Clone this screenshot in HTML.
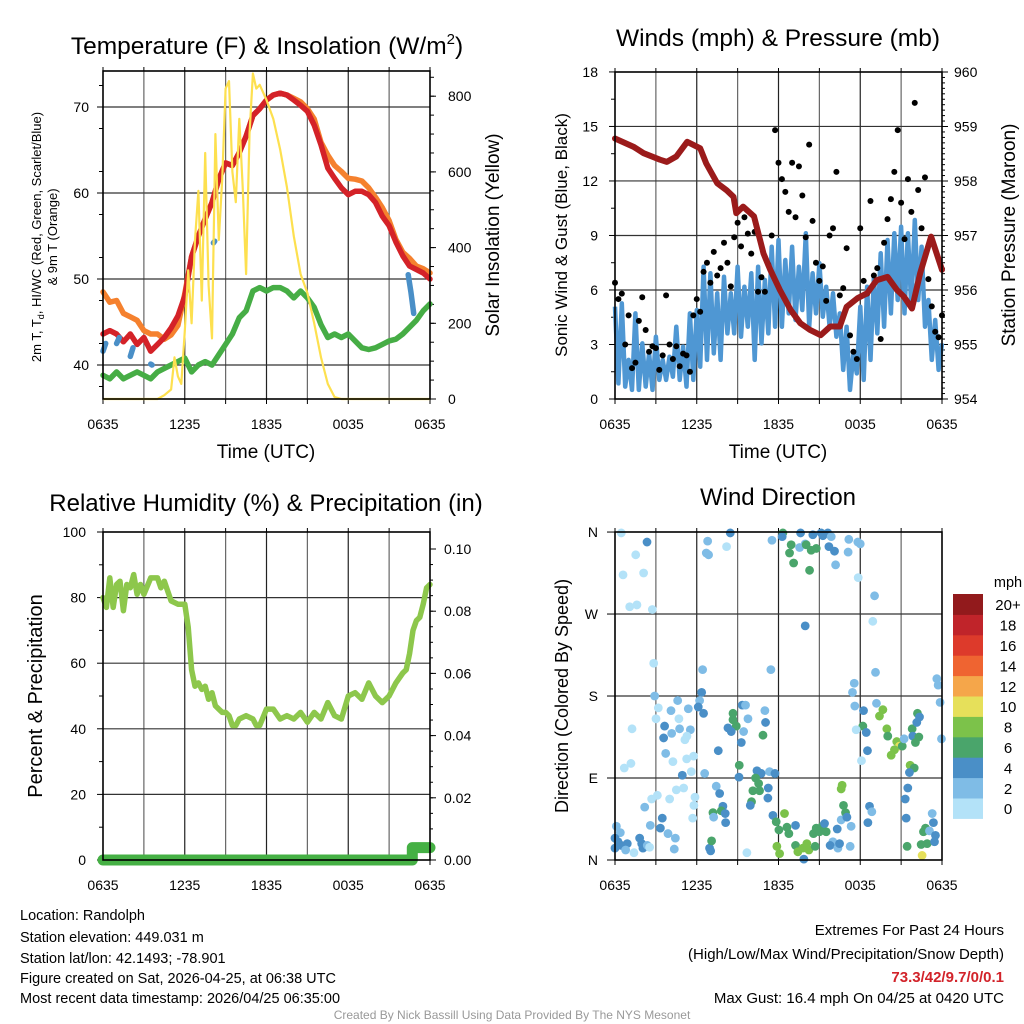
<!DOCTYPE html>
<html><head><meta charset="utf-8"><style>
body{margin:0;background:#fff;}
svg{display:block;font-family:"Liberation Sans",sans-serif;}
</style></head><body>
<svg id="c" width="1024" height="1024" viewBox="0 0 1024 1024">
<rect width="1024" height="1024" fill="#fff"/>
<g id="g"></g>
<text x="267" y="54" font-size="24.5" text-anchor="middle">Temperature (F) &amp; Insolation (W/m<tspan font-size="15" dy="-10">2</tspan><tspan dy="10">)</tspan></text>
<text x="778" y="46" font-size="24.5" text-anchor="middle">Winds (mph) &amp; Pressure (mb)</text>
<text x="266" y="511" font-size="24" text-anchor="middle">Relative Humidity (%) &amp; Precipitation (in)</text>
<text x="778" y="505" font-size="24" text-anchor="middle">Wind Direction</text>
<text x="266" y="458" font-size="19" text-anchor="middle">Time (UTC)</text>
<text x="778" y="458" font-size="19" text-anchor="middle">Time (UTC)</text>
<text transform="translate(41,237) rotate(-90)" font-size="13" text-anchor="middle">2m T, T<tspan font-size="9" dy="3">d</tspan><tspan dy="-3">, HI/WC (Red, Green, Scarlet/Blue)</tspan></text>
<text transform="translate(57,237) rotate(-90)" font-size="13" text-anchor="middle">&amp; 9m T (Orange)</text>
<text transform="translate(499,235) rotate(-90)" font-size="19" text-anchor="middle">Solar Insolation (Yellow)</text>
<text transform="translate(567,235) rotate(-90)" font-size="17" text-anchor="middle">Sonic Wind &amp; Gust (Blue, Black)</text>
<text transform="translate(1015,235) rotate(-90)" font-size="19" text-anchor="middle">Station Pressure (Maroon)</text>
<text transform="translate(42,696) rotate(-90)" font-size="20" text-anchor="middle">Percent &amp; Precipitation</text>
<text transform="translate(568,696) rotate(-90)" font-size="18" text-anchor="middle">Direction (Colored By Speed)</text>
<g font-size="14.5">
<text x="20" y="920">Location: Randolph</text>
<text x="20" y="942">Station elevation: 449.031 m</text>
<text x="20" y="963">Station lat/lon: 42.1493; -78.901</text>
<text x="20" y="983">Figure created on Sat, 2026-04-25, at 06:38 UTC</text>
<text x="20" y="1003">Most recent data timestamp: 2026/04/25 06:35:00</text>
</g>
<g font-size="15" text-anchor="end">
<text x="1004" y="935">Extremes For Past 24 Hours</text>
<text x="1004" y="959">(High/Low/Max Wind/Precipitation/Snow Depth)</text>
<text x="1004" y="982" fill="#d2232a" font-weight="bold">73.3/42/9.7/0/0.1</text>
<text x="1004" y="1003">Max Gust: 16.4 mph On 04/25 at 0420 UTC</text>
</g>
<text x="512" y="1019" font-size="12" fill="#999" text-anchor="middle">Created By Nick Bassill Using Data Provided By The NYS Mesonet</text>
</svg>
<script>
// ---- Temperature panel data (every 30 min, hours since 0635) ----
const tHalf = [0,0.5,1,1.5,2,2.5,3,3.5,4,4.5,5,5.5,6,6.5,7,7.5,8,8.5,9,9.5,10,10.5,11,11.5,12,12.5,13,13.5,14,14.5,15,15.5,16,16.5,17,17.5,18,18.5,19,19.5,20,20.5,21,21.5,22,22.5,23,23.5,24];
const temp9m = [48.5,47.3,47.5,46.0,45.6,45.2,44.0,43.6,43.6,43.0,43.5,44.6,48.3,52.6,55,57,58.9,61.6,63.5,63.2,64.7,66.6,69,69.8,70.8,71.4,71.6,71.4,71,70.6,69.8,68.6,65.9,64.4,63.2,62.5,61.7,61.6,61.4,60.6,59.5,58.3,56.8,54.6,53.1,52.4,51.5,51.2,50.7];
const temp2m = [43.6,44.0,43.6,42.7,43.6,42.4,43.2,41.6,42.4,43.2,44.3,45.7,48.0,52.6,55,57,58.9,61.6,63.5,63.2,64.7,66.6,69,69.8,70.8,71.4,71.6,71.4,70.8,70.2,69.5,67.9,65.6,62.9,61.7,60.6,59.8,60.2,60.2,59.8,58.9,57.3,56.2,54.3,52.7,51.5,51.1,50.7,50.0];
const dewpt = [38.8,38.4,39.2,38.4,38.8,39.2,38.8,38.4,39.2,39.6,40.0,40.4,40.8,39.2,40.0,40.4,40.0,41.2,42.4,43.6,45.5,46.3,48.6,49.0,48.6,49.0,49.0,48.6,47.8,48.6,47.8,46.7,44.7,43.2,43.6,43.2,43.6,42.8,42.0,41.8,42.0,42.4,42.8,43.0,43.6,44.4,45.2,46.3,47.1];
const wcT = [0,0.2,null,1.0,1.2,null,2.0,2.2,null,3.5,3.6,null,8.1,8.2,null,22.4,22.6,22.8];
const wcV = [41.6,42.5,null,42.5,43.2,null,41.0,42.0,null,40.1,40.0,null,54.2,54.4,null,50.5,48.5,46.0];
const solarT = [0,4,4.5,5,5.25,5.5,5.75,6,6.25,6.5,6.75,7,7.25,7.5,7.75,8,8.25,8.5,8.75,9,9.25,9.5,9.75,10,10.25,10.5,10.75,11,11.25,11.5,12,12.5,13,13.5,14,14.5,15,15.5,16,16.5,17,17.5,24];
const solarV = [0,0,10,25,110,60,40,180,340,200,420,550,260,650,300,160,700,420,580,820,840,600,520,740,560,330,700,860,820,830,790,740,660,560,430,330,280,200,110,40,5,0,0];
const tempTicks = [40,50,60,70];
const solarTicks = [0,200,400,600,800];
const timeLabels = ["0635","1235","1835","0035","0635"];
// ---- Wind panel data (every 15 min) ----
const windSpd = [5.08,0.86,5.26,0.68, 2.15,0.50,4.71,0.50, 3.06,0.68,2.51,0.50, 3.43,1.05,2.15,1.05, 2.33,1.23,3.98,1.05, 2.88,0.68,4.71,1.05, 4.90,1.78,7.28,2.15, 6.92,2.51,5.82,2.15, 6.73,3.61,5.82,3.61, 7.28,3.43,6.18,3.98, 6.92,2.15,7.28,3.06, 6.55,3.61,8.38,3.98, 8.75,3.98,7.65,4.71, 8.38,4.35,7.28,4.90, 9.12,3.98,6.92,4.71, 7.47,4.53,6.18,3.98, 5.82,3.43,4.71,1.60, 3.98,0.50,2.51,1.41, 5.08,1.05,6.18,2.15, 6.73,3.61,8.02,3.98, 8.75,4.71,9.12,5.45, 9.48,4.71,9.12,5.08, 9.85,5.45,8.38,3.98, 5.45,2.15,4.35,1.60, 3.06];
const gust = [6.4,5.5,5.8,3.0, 4.6,1.7,2.0,4.3, 5.6,3.8,2.6,2.9, 2.8,1.6,2.4,5.7, 3.0,2.2,2.9,1.8, 2.5,2.4,1.5,4.6, 5.5,4.8,7.0,7.5, 6.4,8.1,6.8,7.2, 8.6,7.5,6.2,8.9, 9.7,8.4,10.0,9.1, 8.0,9.2,5.9,6.7, 5.9,7.4,9.0,14.8, 13.0,12.1,11.4,10.3, 13.0,10.0,12.8,11.2, 8.9,14.0,9.8,7.5, 6.5,7.3,5.4,9.0, 9.4,12.5,5.7,6.1, 8.3,3.5,2.6,2.2, 9.4,6.5,5.8,10.9, 6.8,7.2,3.3,8.6, 9.9,11.0,12.5,14.8, 10.8,8.8,12.1,10.3, 16.3,11.5,9.4,12.2, 6.6,5.1,3.7,3.4, 4.6];
const presT = [0,1.35,2.1,3.3,3.8,4.5,5.3,6.25,6.7,7.5,8.2,8.7,8.9,9.4,10.2,10.9,11.4,12.1,12.9,13.6,14.3,15.1,15.8,16.5,17.0,17.8,18.5,19.2,20.0,20.7,21.2,21.8,22.4,23.2,24];
const presV = [958.78,958.63,958.51,958.39,958.35,958.45,958.72,958.60,958.32,957.96,957.83,957.71,957.41,957.53,957.35,956.67,956.37,956.00,955.63,955.39,955.27,955.17,955.33,955.33,955.69,955.85,955.94,956.18,956.24,956.00,955.88,955.66,956.31,956.98,956.37];
const windTicks = [0,3,6,9,12,15,18];
const presTicks = [954,955,956,957,958,959,960];
// ---- RH panel data ----
const rhT = [0,0.25,0.5,0.75,1,1.25,1.5,1.75,2,2.25,2.5,2.75,3,3.5,4,4.25,4.5,5,5.5,6,6.25,6.5,6.75,7,7.25,7.5,7.75,8,8.25,8.5,8.75,9,9.25,9.5,9.75,10,10.5,11,11.25,11.5,12,12.5,13,13.5,14,14.5,15,15.5,16,16.5,17,17.5,18,18.5,19,19.5,20,20.5,21,21.5,22,22.25,22.5,22.75,23,23.25,23.5,23.75,24];
const rhV = [80,77,86,77,84,85,76,84,83,87,81,84,81,86,86,83,85,79,78,78,71,58,53,54,52,53,49,51,47,46,45,45,44,41,41,43,44,43,41,41,46,46,43,44,43,45,42,45,43,48,44,43,50,51,49,54,50,48,50,54,57,58,63,70,73,74,78,83,84];
const precipT = [0,22.7,22.7,24];
const precipV = [0,0,0.004,0.004];
const rhTicks = [0,20,40,60,80,100];
const precipTicks = ["0.00","0.02","0.04","0.06","0.08","0.10"];
// ---- Wind direction data: [hour, degrees, speed mph] ----
const dirHour = [0.46,2.35,1.52,0.59,2.10,1.08,1.61,2.74,6.80,6.70,6.87,8.46,8.19,11.52,12.32,12.27,13.62,12.93,12.81,13.11,13.55,13.96,14.03,14.40,14.77,14.52,14.28,15.13,15.26,15.62,15.87,15.70,16.11,16.19,17.16,17.11,17.82,18.00,17.85,19.05,18.92,13.96,
2.84,2.91,3.18,3.01,1.25,3.64,3.57,4.11,4.60,4.69,4.74,4.16,5.38,5.53,5.13,5.28,3.72,4.25,5.26,5.77,0.68,1.17,4.94,5.60,6.43,6.36,6.21,6.11,6.50,7.58,6.58,8.66,8.66,8.90,8.29,8.53,9.34,9.58,9.76,9.44,9.27,9.12,9.10,11.00,11.05,10.86,11.44,10.42,10.73,11.34,11.74,10.32,10.54,10.12,10.61,11.25,11.22,10.02,9.93,17.56,17.43,17.60,19.12,19.19,18.24,18.19,18.44,17.70,18.53,18.09,19.66,19.41,19.95,20.02,20.68,20.88,20.51,20.27,21.08,21.22,21.81,21.86,22.05,22.30,22.20,22.35,22.15,21.66,21.96,21.61,23.62,23.72,23.86,23.96,
0.10,0.39,0.0,0.22,0.0,0.46,0.90,0.78,1.39,1.81,1.96,2.05,2.37,2.54,2.18,2.59,3.11,2.69,3.47,3.33,3.89,4.43,4.35,4.01,4.50,5.04,5.87,5.79,5.70,6.94,7.02,7.09,7.43,7.68,7.92,7.19,7.80,8.09,7.24,8.12,9.68,11.59,11.83,12.03,12.44,12.62,12.76,11.88,12.08,13.25,13.25,13.42,13.79,14.08,14.23,14.69,14.57,14.77,15.01,15.21,15.38,15.50,13.86,15.99,15.79,16.36,16.48,16.31,16.60,17.33,17.26,16.67,16.60,16.77,16.92,17.02,18.68,18.85,18.56,21.30,21.49,21.37,21.44,22.54,22.47,22.91,22.79,22.64,23.08,23.37,23.28,23.52,23.45];
const dirDeg = [359,349,335,313,315,278,280,275,350,337,335,359,344,351,359,355,359,346,337,326,343,347,346,340,342,357,318,359,356,359,355,344,339,324,352,338,349,347,310,290,262,257,
216,180,167,155,144,147,134,164,175,155,144,139,166,143,132,136,117,108,111,114,101,106,93,97,209,184,175,168,161,120,95,161,154,147,145,141,170,170,155,141,129,104,91,164,151,137,209,98,95,97,95,90,84,76,76,79,68,64,60,194,184,169,206,172,164,147,140,143,120,109,165,158,144,136,130,125,121,115,125,133,144,136,129,135,161,157,151,104,101,96,199,192,173,133,
37,30,24,20,13,16,18,11,8,24,18,13,16,14,58,38,71,67,46,35,29,24,12,67,77,79,69,60,46,13,10,21,81,73,59,52,54,51,47,41,8,49,42,33,51,36,29,15,7,38,16,9,13,18,11,15,29,35,31,37,40,31,1,20,16,13,18,34,44,37,15,82,78,60,52,47,59,53,41,67,79,46,15,5,17,18,35,31,32,41,51,27,20];
const dirSpd = [1,5,1,1,1,1,1,1,3,3,3,5,1,3,7,5,5,7,7,7,3,3,7,7,7,5,7,5,5,5,3,5,5,3,3,3,3,3,1,3,1,5,
1,3,1,1,1,5,5,3,3,1,3,3,3,3,1,1,3,1,1,1,1,1,5,1,3,5,3,5,5,5,3,7,7,7,5,5,5,3,3,3,5,7,5,3,5,7,3,5,5,3,5,7,7,7,7,5,5,7,5,3,3,3,3,3,5,7,5,1,5,1,9,9,9,7,9,11,9,9,7,3,7,5,7,7,7,5,5,9,7,5,3,3,3,3,
3,3,5,5,5,5,5,3,1,5,5,5,3,1,3,3,1,1,5,5,3,3,3,1,1,1,1,1,1,5,5,7,3,5,5,7,7,5,3,5,1,5,7,7,9,7,7,9,9,5,7,9,9,9,9,7,7,7,7,7,5,7,5,3,5,3,5,5,3,3,3,9,9,7,7,5,5,3,5,5,5,5,7,11,7,7,7,7,3,5,3,5,5];
const speedBins = ["0","2","4","6","8","10","12","14","16","18","20+"];
const dirLabels = ["N","E","S","W","N"];

const NS='http://www.w3.org/2000/svg';
const G=document.getElementById('g');
function el(tag,attrs,parent){const e=document.createElementNS(NS,tag);for(const k in attrs)e.setAttribute(k,attrs[k]);(parent||G).appendChild(e);return e;}
function txt(x,y,s,size,anchor,parent){const e=el('text',{x:x,y:y,'font-size':size,'text-anchor':anchor},parent);e.textContent=s;return e;}
function pathFrom(ts,vs,fx,fy){let d='',pen=false;for(let i=0;i<ts.length;i++){if(ts[i]===null||vs[i]===null){pen=false;continue;}d+=(pen?'L':'M')+fx(ts[i]).toFixed(1)+','+fy(vs[i]).toFixed(1);pen=true;}return d;}

function panel(x0,x1,y0,y1,hLines,name){
  const g=el('g',{});
  
  
  for(let k=1;k<8;k++){const x=x0+k*(x1-x0)/8;
    const l=el('line',{x1:x,y1:y0,x2:x,y2:y1,stroke:k%2?'#666':'#222','stroke-width':1.2},g);
    
    }
  hLines.forEach(y=>{const l=el('line',{x1:x0,y1:y,x2:x1,y2:y,stroke:'#333','stroke-width':1.2},g);
    
    });
  for(let k=0;k<=8;k++){const x=x0+k*(x1-x0)/8;el('line',{x1:x,y1:y1,x2:x,y2:y1+5,stroke:'#000','stroke-width':1},g);el('line',{x1:x,y1:y0,x2:x,y2:y0-4,stroke:'#000','stroke-width':1},g);}
  return g;
}
function frame(x0,x1,y0,y1,name){const r=el('rect',{x:x0,y:y0,width:x1-x0,height:y1-y0,fill:'none',stroke:'#000','stroke-width':1.6});
  
  }
function xLabels(x0,x1,y){timeLabels.forEach((s,i)=>{const t=txt(x0+i*(x1-x0)/4,y,s,14,'middle');
  
  });}

// ===== Panel 1 =====
{const x0=103,x1=430,y0=71,y1=399;
 const X=t=>x0+t*(x1-x0)/24, YT=v=>365+(40-v)*8.6, YS=v=>399-v*0.3785;
 panel(x0,x1,y0,y1,tempTicks.map(YT),'temp-grid');
 tempTicks.forEach(v=>{el('line',{x1:x0-6,y1:YT(v),x2:x0,y2:YT(v),stroke:'#000'});const t=txt(x0-14,YT(v)+5,String(v),14,'end');
   
   });
 for(let v=37.5;v<75;v+=5)el('line',{x1:x0-4,y1:YT(v),x2:x0,y2:YT(v),stroke:'#000'});
 solarTicks.forEach(v=>{el('line',{x1:x1,y1:YS(v),x2:x1+6,y2:YS(v),stroke:'#000'});const t=txt(x1+18,YS(v)+5,String(v),14,'start');
   
   });
 for(let v=50;v<870;v+=50)el('line',{x1:x1,y1:YS(v),x2:x1+4,y2:YS(v),stroke:'#000'});
 let p;
 p=el('path',{d:pathFrom(tHalf,dewpt,X,YT),fill:'none',stroke:'#46ad45','stroke-width':5.5,'stroke-linejoin':'round','stroke-linecap':'round'});
 
 p=el('path',{d:pathFrom(tHalf,temp9m,X,YT),fill:'none',stroke:'#f5812e','stroke-width':5.5,'stroke-linejoin':'round','stroke-linecap':'round'});
 
 p=el('path',{d:pathFrom(tHalf,temp2m,X,YT),fill:'none',stroke:'#d42228','stroke-width':5.5,'stroke-linejoin':'round','stroke-linecap':'round'});
 
 p=el('path',{d:pathFrom(wcT,wcV,X,YT),fill:'none',stroke:'#4a8fc7','stroke-width':5.5,'stroke-linecap':'round'});
 
 p=el('path',{d:pathFrom(solarT,solarV,X,YS),fill:'none',stroke:'#fde04f','stroke-width':2.2,'stroke-linejoin':'round'});
 
 frame(x0,x1,y0,y1,'temp-plot-frame');
 xLabels(x0,x1,429);
}
// ===== Panel 2 =====
{const x0=615,x1=942,y0=72,y1=399;
 const X=t=>x0+t*(x1-x0)/24, YW=v=>399-v*18.17, YP=p=>399-(p-954)*54.5;
 panel(x0,x1,y0,y1,windTicks.slice(1,-1).map(YW),'wind-grid');
 windTicks.forEach(v=>{el('line',{x1:x0-6,y1:YW(v),x2:x0,y2:YW(v),stroke:'#000'});const t=txt(x0-17,YW(v)+5,String(v),14,'end');
   
   });
 for(let v=1.5;v<18;v+=3)el('line',{x1:x0-4,y1:YW(v),x2:x0,y2:YW(v),stroke:'#000'});
 presTicks.forEach(v=>{el('line',{x1:x1,y1:YP(v),x2:x1+6,y2:YP(v),stroke:'#000'});const t=txt(x1+12,YP(v)+5,String(v),14,'start');
   
   });
 for(let v=954.1;v<960;v+=0.1)el('line',{x1:x1,y1:YP(v),x2:x1+3,y2:YP(v),stroke:'#000'});
 const tq=windSpd.map((_,i)=>i*0.25);
 let p=el('path',{d:pathFrom(tq,windSpd,X,YW),fill:'none',stroke:'#4f97d3','stroke-width':4.5,'stroke-linejoin':'round'});
 
 gust.forEach((v,i)=>{const c=el('circle',{cx:X(i*0.25),cy:YW(v),r:3,fill:'#000'});
   
   });
 p=el('path',{d:pathFrom(presT,presV,X,YP),fill:'none',stroke:'#9b1b1b','stroke-width':6,'stroke-linejoin':'round','stroke-linecap':'round'});
 
 frame(x0,x1,y0,y1,'wind-plot-frame');
 xLabels(x0,x1,429);
}
// ===== Panel 3 =====
{const x0=103,x1=430,y0=532,y1=860;
 const X=t=>x0+t*(x1-x0)/24, YR=v=>860-v*3.28, YPr=v=>860-v*3110;
 panel(x0,x1,y0,y1,rhTicks.slice(1,-1).map(YR),'rh-grid');
 rhTicks.forEach(v=>{el('line',{x1:x0-6,y1:YR(v),x2:x0,y2:YR(v),stroke:'#000'});const t=txt(x0-17,YR(v)+5,String(v),14,'end');
   
   });
 for(let v=10;v<100;v+=20)el('line',{x1:x0-4,y1:YR(v),x2:x0,y2:YR(v),stroke:'#000'});
 precipTicks.forEach(s=>{const v=parseFloat(s);el('line',{x1:x1,y1:YPr(v),x2:x1+6,y2:YPr(v),stroke:'#000'});const t=txt(x1+14,YPr(v)+5,s,14,'start');
   
   });
 for(let v=0.005;v<0.105;v+=0.005)el('line',{x1:x1,y1:YPr(v),x2:x1+3,y2:YPr(v),stroke:'#000'});
 let p=el('path',{d:pathFrom(rhT,rhV,X,YR),fill:'none',stroke:'#8dc74c','stroke-width':5.5,'stroke-linejoin':'round','stroke-linecap':'round'});
 
 p=el('path',{d:pathFrom(precipT,precipV,X,YPr),fill:'none',stroke:'#45b044','stroke-width':11,'stroke-linejoin':'round','stroke-linecap':'round'});
 
 frame(x0,x1,y0,y1,'rh-plot-frame');
 xLabels(x0,x1,890);
}
// ===== Panel 4 =====
{const x0=615,x1=942,y0=532,y1=860;
 const X=t=>x0+t*(x1-x0)/24, YD=d=>860-d*0.911;
 const colors=['#b3e2f8','#7fbce6','#4a8fc7','#4aa56b','#7cc24a','#e6e05a','#f5a64a','#ef6431','#dd3a2b','#c0242a','#921a1c'];
 panel(x0,x1,y0,y1,[90,180,270].map(YD),'direction-grid');
 dirLabels.forEach((s,i)=>{el('line',{x1:x0-8,y1:YD(i*90),x2:x0,y2:YD(i*90),stroke:'#000'});const t=txt(x0-17,YD(i*90)+5,s,14,'end');
   
   });
 dirHour.forEach((h,i)=>{const bin=Math.min(10,Math.floor(dirSpd[i]/2));
   const c=el('circle',{cx:X(h),cy:YD(dirDeg[i]),r:4.4,fill:colors[bin]});
   
   });
 frame(x0,x1,y0,y1,'direction-plot-frame');
 xLabels(x0,x1,890);
 // colorbar
 const cb=el('g',{});
 
 
 const bh=20.4, top=594;
 speedBins.forEach((s,i)=>{const k=speedBins.length-1-i;
   el('rect',{x:953,y:top+k*bh,width:30,height:bh+0.5,fill:colors[i]},cb);
   const t=txt(1008,top+k*bh+bh/2+6,s,15,'middle',cb);
   
   });
 const u=txt(1008,587,'mph',14.5,'middle',cb);
 
 
}
</script>
</body></html>
